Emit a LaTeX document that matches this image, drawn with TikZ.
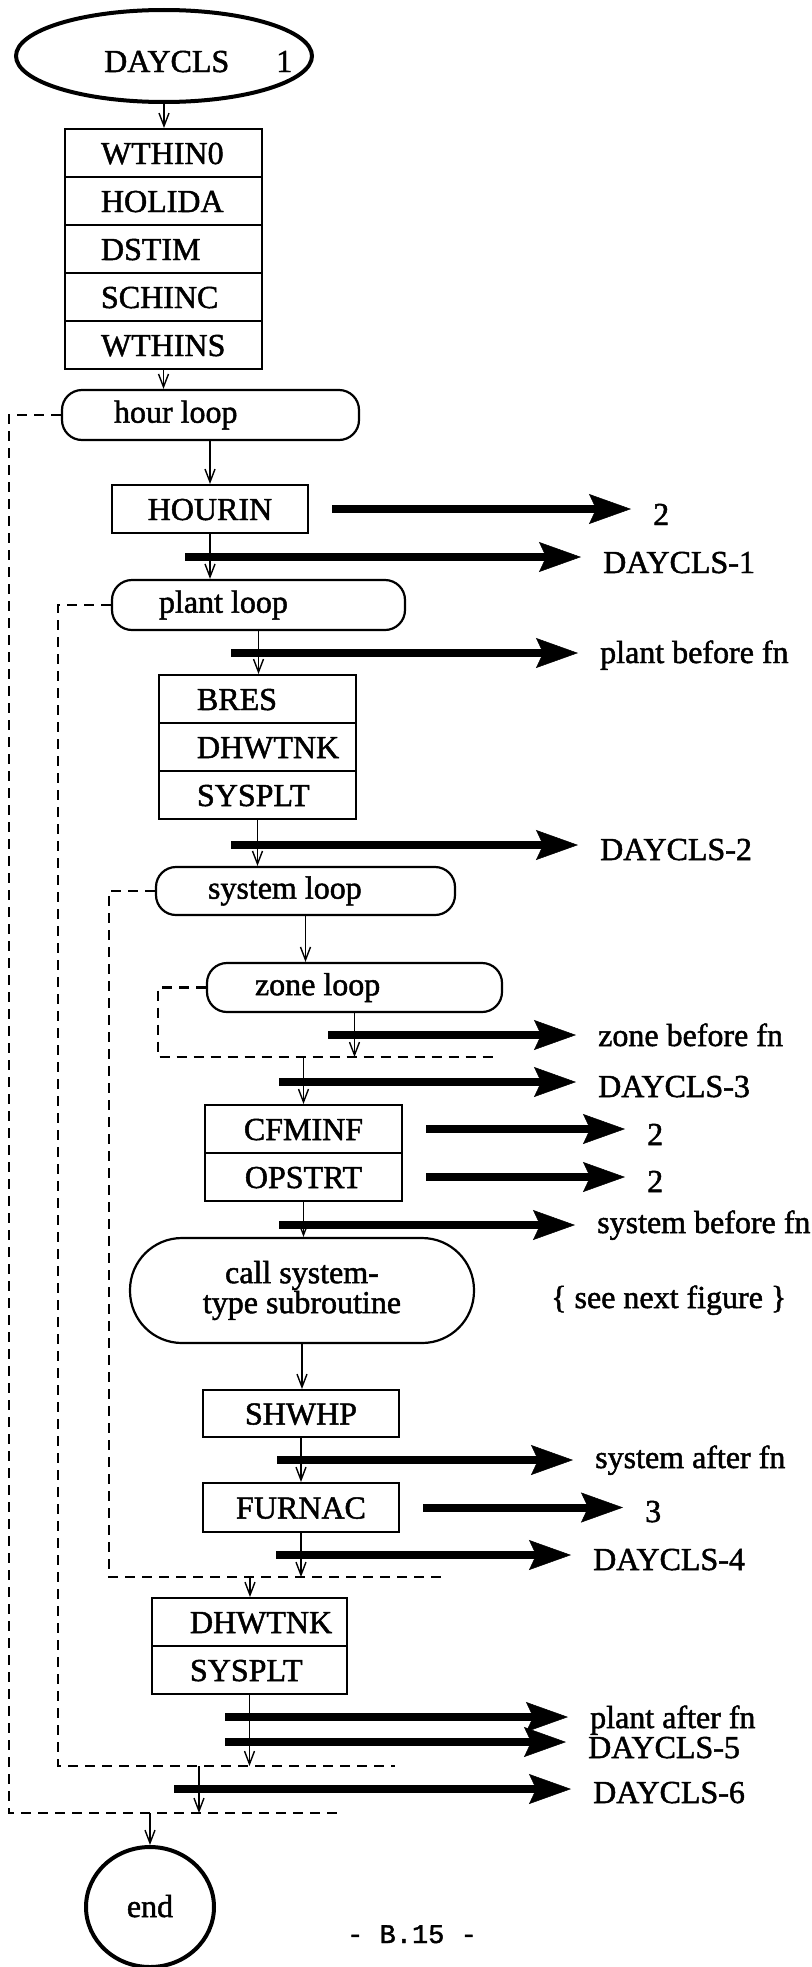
\documentclass[tikz,border=0pt]{standalone}
\usepackage{fontspec}
\setmainfont{Liberation Serif}[FakeBold=1.5]
\setmonofont{Liberation Mono}[FakeBold=1.5]
\usetikzlibrary{arrows.meta,shapes.geometric}
\newcommand{\cellfill}[3]{\makebox[#1][l]{\hspace{#2}#3}}
\begin{document}
\begin{tikzpicture}[x=1pt,y=-1pt,
  every node/.style={font=\fontsize{32}{30}\selectfont, inner sep=0pt},
  cell/.style={draw, line width=2pt, rectangle, minimum width=#1, minimum height=48pt, text height=22pt, text depth=0pt},
  loopbox/.style={draw, line width=2.2pt, rounded corners=20pt, minimum width=#1, minimum height=50pt},
  termell/.style={draw, ellipse, line width=4pt},
  lab/.style={anchor=base west},
  thinarr/.style={line width=1.4pt, -{Straight Barb[length=13pt,width=10pt]}},
  fat/.style={line width=8pt, -{Stealth[length=42pt,width=30pt,inset=7pt,line width=0.5pt]}, shorten >=22pt},
  loopline/.style={line width=2.2pt, dash pattern=on 10pt off 7pt}
]
\useasboundingbox (0,0) rectangle (811,1967);

% ---- nodes ----
\node[termell, minimum width=296pt, minimum height=92pt] (start) at (164,56) {};
\node[lab] (starttxt) at (104,72) {DAYCLS};
\node[lab] (startnum) at (276,72) {1};

\node[cell=197pt] (w1) at (163.5,153) {\cellfill{197pt}{36pt}{WTHIN0}};
\node[cell=197pt] (w2) at (163.5,201) {\cellfill{197pt}{36pt}{HOLIDA}};
\node[cell=197pt] (w3) at (163.5,249) {\cellfill{197pt}{36pt}{DSTIM}};
\node[cell=197pt] (w4) at (163.5,297) {\cellfill{197pt}{36pt}{SCHINC}};
\node[cell=197pt] (w5) at (163.5,345) {\cellfill{197pt}{36pt}{WTHINS}};

\node[loopbox=297pt] (hour) at (210.5,415) {\cellfill{297pt}{52pt}{hour loop}};
\node[cell=196pt] (hourin) at (210,509) {HOURIN};
\node[loopbox=293pt] (plant) at (258.5,605) {\cellfill{293pt}{47pt}{plant loop}};

\node[cell=197pt] (b1) at (257.5,699) {\cellfill{197pt}{38pt}{BRES}};
\node[cell=197pt] (b2) at (257.5,747) {\cellfill{197pt}{38pt}{DHWTNK}};
\node[cell=197pt] (b3) at (257.5,795) {\cellfill{197pt}{38pt}{SYSPLT}};

\node[loopbox=299pt, minimum height=48pt] (sys) at (305.5,891) {\cellfill{299pt}{52pt}{system loop}};
\node[loopbox=295pt, minimum height=49pt] (zone) at (354.5,987.5) {\cellfill{295pt}{48pt}{zone loop}};

\node[cell=197pt] (c1) at (303.5,1129) {CFMINF};
\node[cell=197pt] (c2) at (303.5,1177) {OPSTRT};

\node[draw, line width=2.2pt, rounded corners=52pt, minimum width=344pt, minimum height=105pt, align=center] (call) at (302,1290.5) {call system-\\type subroutine};
\node[lab] (seenext) at (551,1308) {\{ see next figure \}};

\node[cell=196pt, minimum height=47pt] (shwhp) at (301,1413.5) {SHWHP};
\node[cell=196pt, minimum height=49pt] (furnac) at (301,1507.5) {FURNAC};

\node[cell=195pt] (d1) at (249.5,1622) {\cellfill{195pt}{38pt}{DHWTNK}};
\node[cell=195pt] (d2) at (249.5,1670) {\cellfill{195pt}{38pt}{SYSPLT}};

\node[termell, minimum width=128pt, minimum height=120pt, text height=20pt, text depth=0pt] (endn) at (150,1907) {end};
\node[lab, font=\fontsize{27}{27}\selectfont\ttfamily] (page) at (347,1943) {- B.15 -};

% ---- labels of side arrows ----
\node[lab] (l2a) at (653,525) {2};
\node[lab] (ld1) at (603,573) {DAYCLS-1};
\node[lab] (lpb) at (600,663) {plant before fn};
\node[lab] (ld2) at (600,860) {DAYCLS-2};
\node[lab] (lzb) at (598,1046) {zone before fn};
\node[lab] (ld3) at (598,1097) {DAYCLS-3};
\node[lab] (l2b) at (647,1145) {2};
\node[lab] (l2c) at (647,1192) {2};
\node[lab] (lsb) at (597,1233) {system before fn};
\node[lab] (lsa) at (595,1468) {system after fn};
\node[lab] (l3) at (645,1522) {3};
\node[lab] (ld4) at (593,1570) {DAYCLS-4};
\node[lab] (lpa) at (590,1728) {plant after fn};
\node[lab] (ld5) at (588,1758) {DAYCLS-5};
\node[lab] (ld6) at (593,1803) {DAYCLS-6};

% ---- loop return lines (dashed) ----
\coordinate (hourBL) at (9,1813);
\coordinate (hourBR) at (343,1813);
\coordinate (plantBL) at (58,1766);
\coordinate (plantBR) at (395,1766);
\coordinate (sysBL) at (109,1577);
\coordinate (sysBR) at (447,1577);
\coordinate (zoneBL) at (158,1057);
\coordinate (zoneBR) at (497,1057);
\draw[loopline] (hour.west) -| (hourBL) -- (hourBR);
\draw[loopline] (plant.west) -| (plantBL) -- (plantBR);
\draw[loopline] (sys.west) -| (sysBL) -- (sysBR);
\draw[loopline] (zone.west) -| (zoneBL) -- (zoneBR);

% points on the dashed lines
\coordinate (zIn) at (354.5,1057);
\coordinate (zOut) at (303.5,1057);
\coordinate (sIn) at (301,1577);
\coordinate (sOut) at (250,1577);
\coordinate (pIn) at (249.5,1766);
\coordinate (pOut) at (199,1766);
\coordinate (hIn) at (199,1813);
\coordinate (hOut) at (150,1813);

% ---- thin flow arrows ----
\draw[thinarr] (start.south) -- (start.south |- w1.north);
\draw[thinarr] (w5.south) -- (w5.south |- hour.north);
\draw[thinarr] (hourin.north |- hour.south) -- (hourin.north);
\draw[thinarr] (hourin.south) -- (hourin.south |- plant.north);
\draw[thinarr] (plant.south) -- (plant.south |- b1.north);
\draw[thinarr] (b3.south) -- (b3.south |- sys.north);
\draw[thinarr] (sys.south) -- (sys.south |- zone.north);
\draw[thinarr] (zone.south) -- (zIn);
\draw[thinarr] (zOut) -- (zOut |- c1.north);
\draw[thinarr] (c2.south) -- (c2.south |- call.north);
\draw[thinarr] (call.south) -- (call.south |- shwhp.north);
\draw[thinarr] (shwhp.south) -- (furnac.north);
\draw[thinarr] (furnac.south) -- (sIn);
\draw[thinarr] (sOut) -- (sOut |- d1.north);
\draw[thinarr] (d2.south) -- (pIn);
\draw[thinarr] (pOut) -- (hIn);
\draw[thinarr] (hOut) -- (endn.north);

% ---- thick side arrows ----
\coordinate (f1) at (185,557);
\coordinate (f2) at (231,653);
\coordinate (f3) at (231,845);
\coordinate (f4) at (328,1035);
\coordinate (f5) at (279,1082);
\coordinate (f6) at (279,1225);
\coordinate (f7) at (277,1460);
\coordinate (f8) at (276,1555);
\coordinate (f9) at (225,1717);
\coordinate (f10) at (225,1742);
\coordinate (f11) at (174,1789);

\draw[fat, shorten <=23pt] (hourin.east) -- (hourin.east -| l2a.west);
\draw[fat] (f1) -- (f1 -| ld1.west);
\draw[fat] (f2) -- (f2 -| lpb.west);
\draw[fat] (f3) -- (f3 -| ld2.west);
\draw[fat] (f4) -- (f4 -| lzb.west);
\draw[fat] (f5) -- (f5 -| ld3.west);
\draw[fat, shorten <=23pt] (c1.east) -- (c1.east -| l2b.west);
\draw[fat, shorten <=23pt] (c2.east) -- (c2.east -| l2c.west);
\draw[fat] (f6) -- (f6 -| lsb.west);
\draw[fat] (f7) -- (f7 -| lsa.west);
\draw[fat, shorten <=23pt] (furnac.east) -- (furnac.east -| l3.west);
\draw[fat] (f8) -- (f8 -| ld4.west);
\draw[fat] (f9) -- (f9 -| lpa.west);
\draw[fat] (f10) -- (f10 -| ld5.west);
\draw[fat] (f11) -- (f11 -| ld6.west);
\end{tikzpicture}
\end{document}
